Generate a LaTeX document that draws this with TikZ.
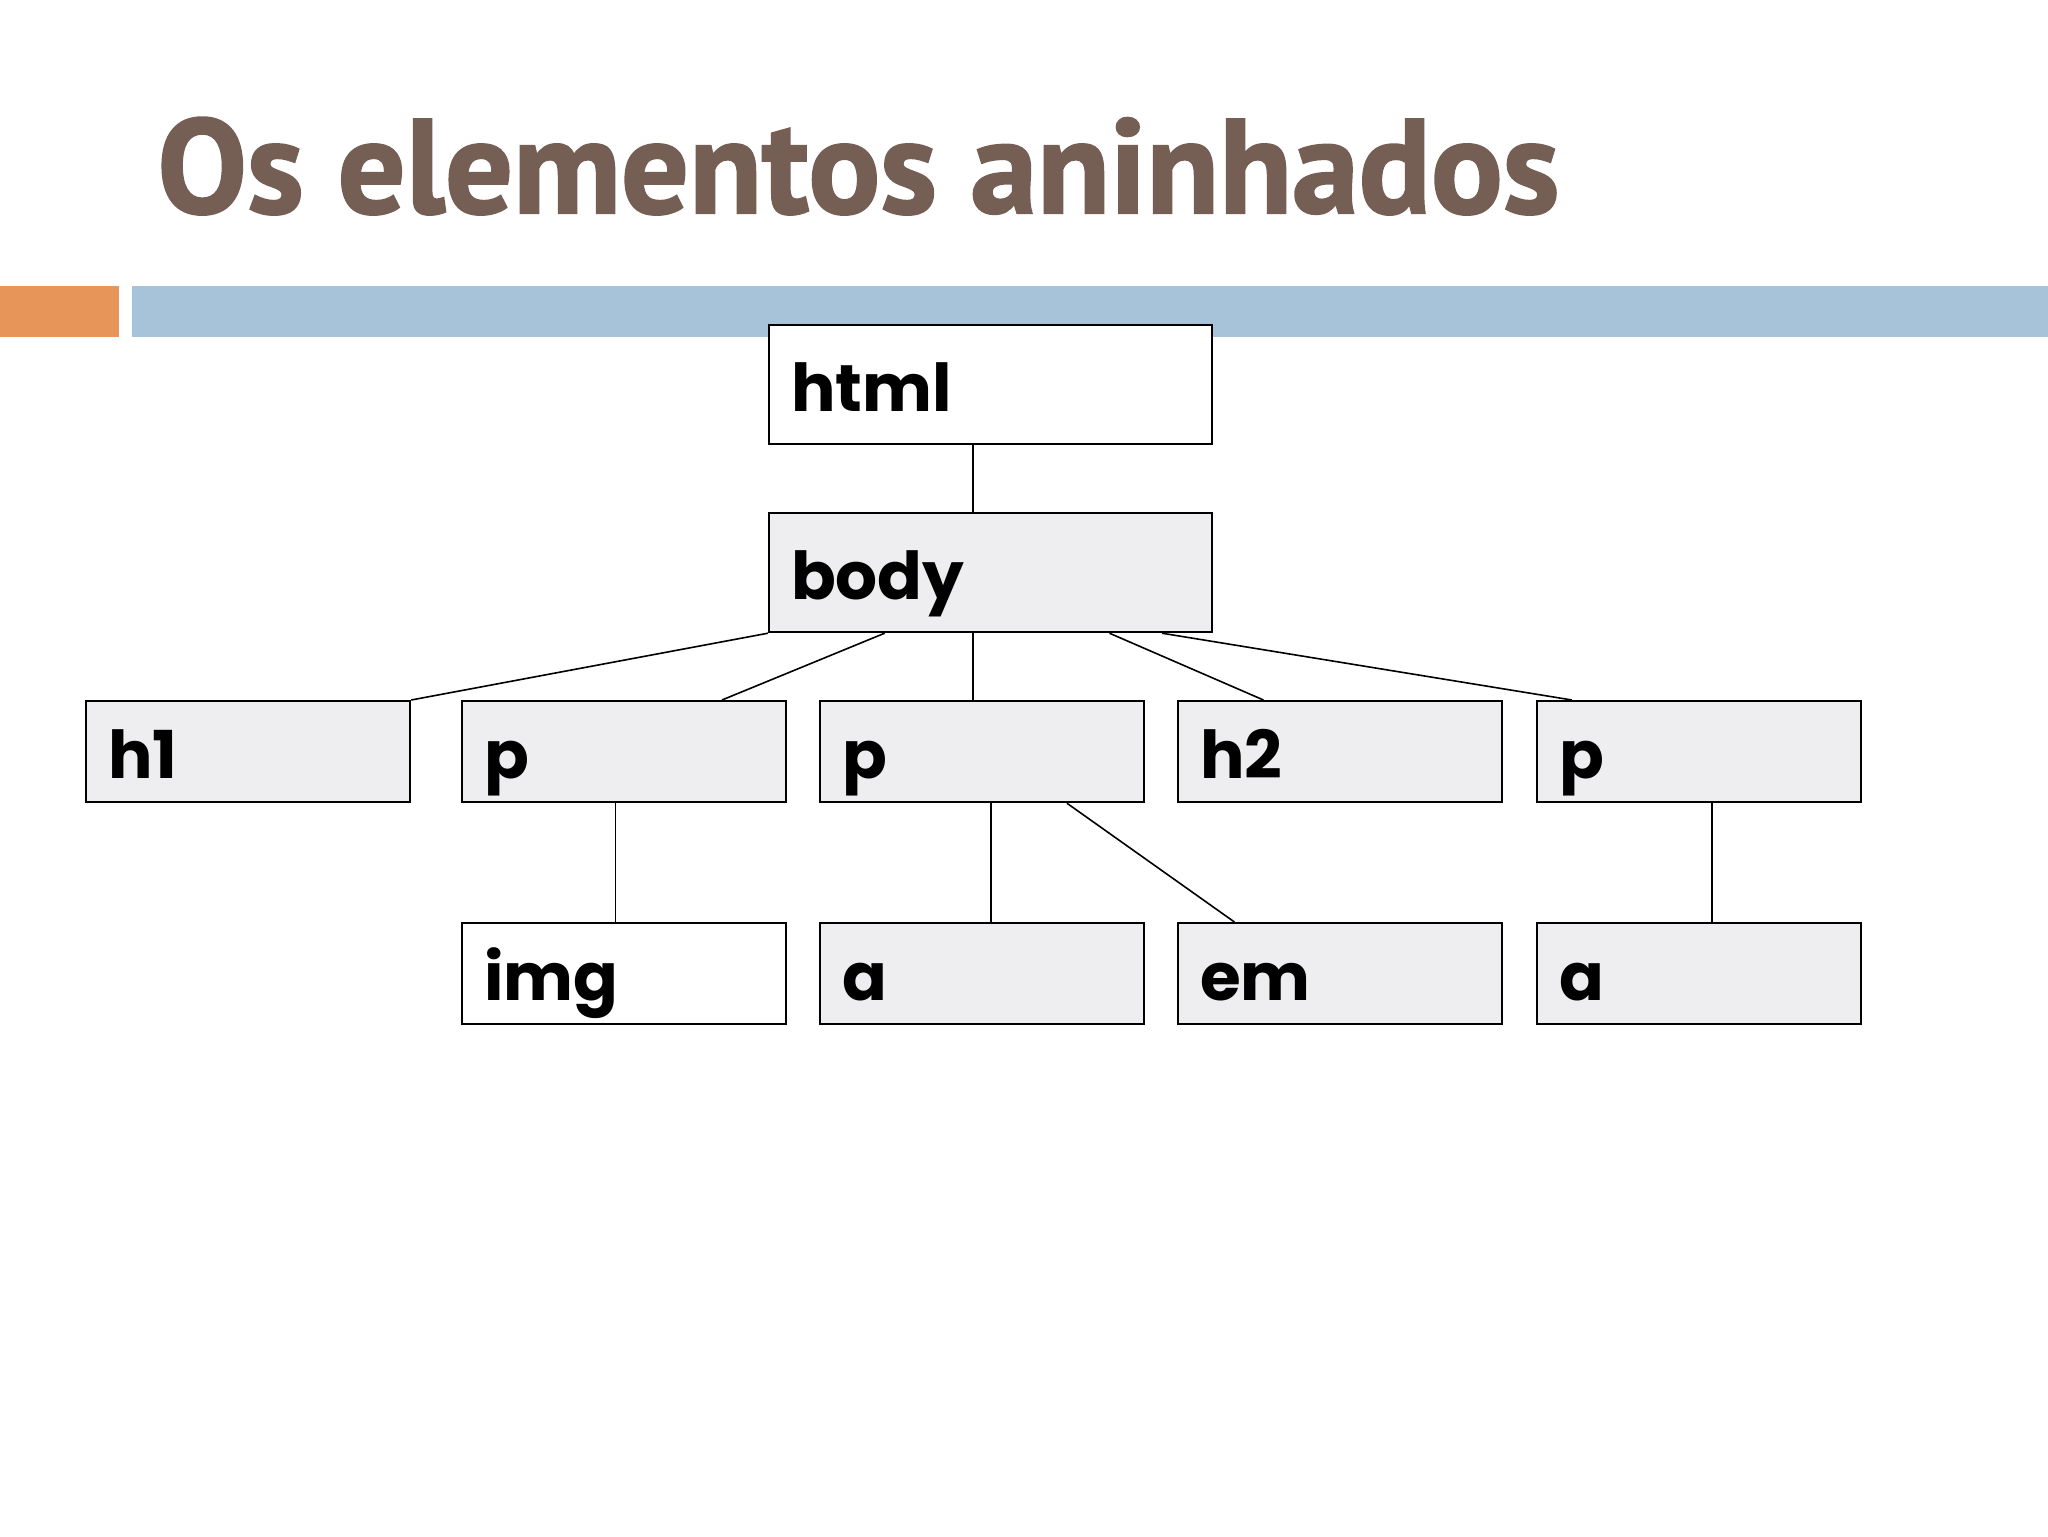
\documentclass[tikz,border=0pt]{standalone}
\usepackage{fontspec}
\setmainfont{Liberation Sans}
\newfontfamily\titlefont[FakeBold=1.6]{PT Sans}
\newfontfamily\boxfont{Poppins}
\definecolor{titlebrown}{HTML}{755F55}
\definecolor{barorange}{HTML}{E8955A}
\definecolor{barblue}{HTML}{A7C3DA}
\definecolor{boxgray}{HTML}{EEEDF0}
\tikzset{
  elem/.style={draw=black, line width=1.1pt, fill=boxgray, anchor=north west,
    text width=140pt, align=left, inner xsep=11pt, inner ysep=0pt,
    minimum height=50.5pt, text height=30pt, text depth=3pt,
    font=\boxfont\bfseries\fontsize{33}{38}\selectfont},
  bigelem/.style={elem, text width=199.5pt, minimum height=59.5pt},
  white/.style={fill=white},
  link/.style={draw=black, line width=0.8pt}
}
\begin{document}
\begin{tikzpicture}[x=0.5pt,y=-0.5pt]
\useasboundingbox (0,0) rectangle (2048,1536);
\fill[white] (0,0) rectangle (2048,1536);
% title and bars
\node[anchor=base west, inner sep=0pt, text=titlebrown,
  font=\titlefont\bfseries\fontsize{67}{72}\selectfont] (title) at (157,213) {Os elementos aninhados};
\fill[barorange] (0,286) rectangle (119,337);
\fill[barblue] (132,286) rectangle (2048,337);
% boxes
\node[bigelem, white] (html) at (768,324) {html};
\node[bigelem] (body) at (768,512) {body};
\node[elem] (h1) at (85,700) {h1};
\node[elem] (p1) at (461,700) {p};
\node[elem] (p2) at (819,700) {p};
\node[elem] (h2) at (1177,700) {h2};
\node[elem] (p3) at (1536,700) {p};
\node[elem, white] (img) at (461,922) {img};
\node[elem] (a1) at (819,922) {a};
\node[elem] (em) at (1177,922) {em};
\node[elem] (a2) at (1536,922) {a};
% anchor points
\path (html.south west) -- (html.south east) coordinate[pos=0.46] (hs);
\coordinate (bn) at (hs |- body.north);
\path (body.south west) -- (body.south east)
  coordinate[pos=0.262] (bs1) coordinate[pos=0.46] (bs2)
  coordinate[pos=0.767] (bs3) coordinate[pos=0.885] (bs4);
\path (p1.north west) -- (p1.north east) coordinate[pos=0.80] (p1n);
\coordinate (p2n) at (bs2 |- p2.north);
\path (h2.north west) -- (h2.north east) coordinate[pos=0.265] (h2n);
\path (p3.north west) -- (p3.north east) coordinate[pos=0.11] (p3n);
\path (p1.south west) -- (p1.south east) coordinate[pos=0.474] (p1s);
\coordinate (imgn) at (p1s |- img.north);
\path (p2.south west) -- (p2.south east) coordinate[pos=0.528] (p2s) coordinate[pos=0.76] (p2e);
\coordinate (a1n) at (p2s |- a1.north);
\path (em.north west) -- (em.north east) coordinate[pos=0.176] (emn);
\path (p3.south west) -- (p3.south east) coordinate[pos=0.54] (p3s);
\coordinate (a2n) at (p3s |- a2.north);
% connectors
\draw[link] (hs) -- (bn);
\draw[link] (body.south west) -- (h1.north east);
\draw[link] (bs1) -- (p1n);
\draw[link] (bs2) -- (p2n);
\draw[link] (bs3) -- (h2n);
\draw[link] (bs4) -- (p3n);
\draw[link] (p1s) -- (imgn);
\draw[link] (p2s) -- (a1n);
\draw[link] (p2e) -- (emn);
\draw[link] (p3s) -- (a2n);
\end{tikzpicture}
\end{document}
